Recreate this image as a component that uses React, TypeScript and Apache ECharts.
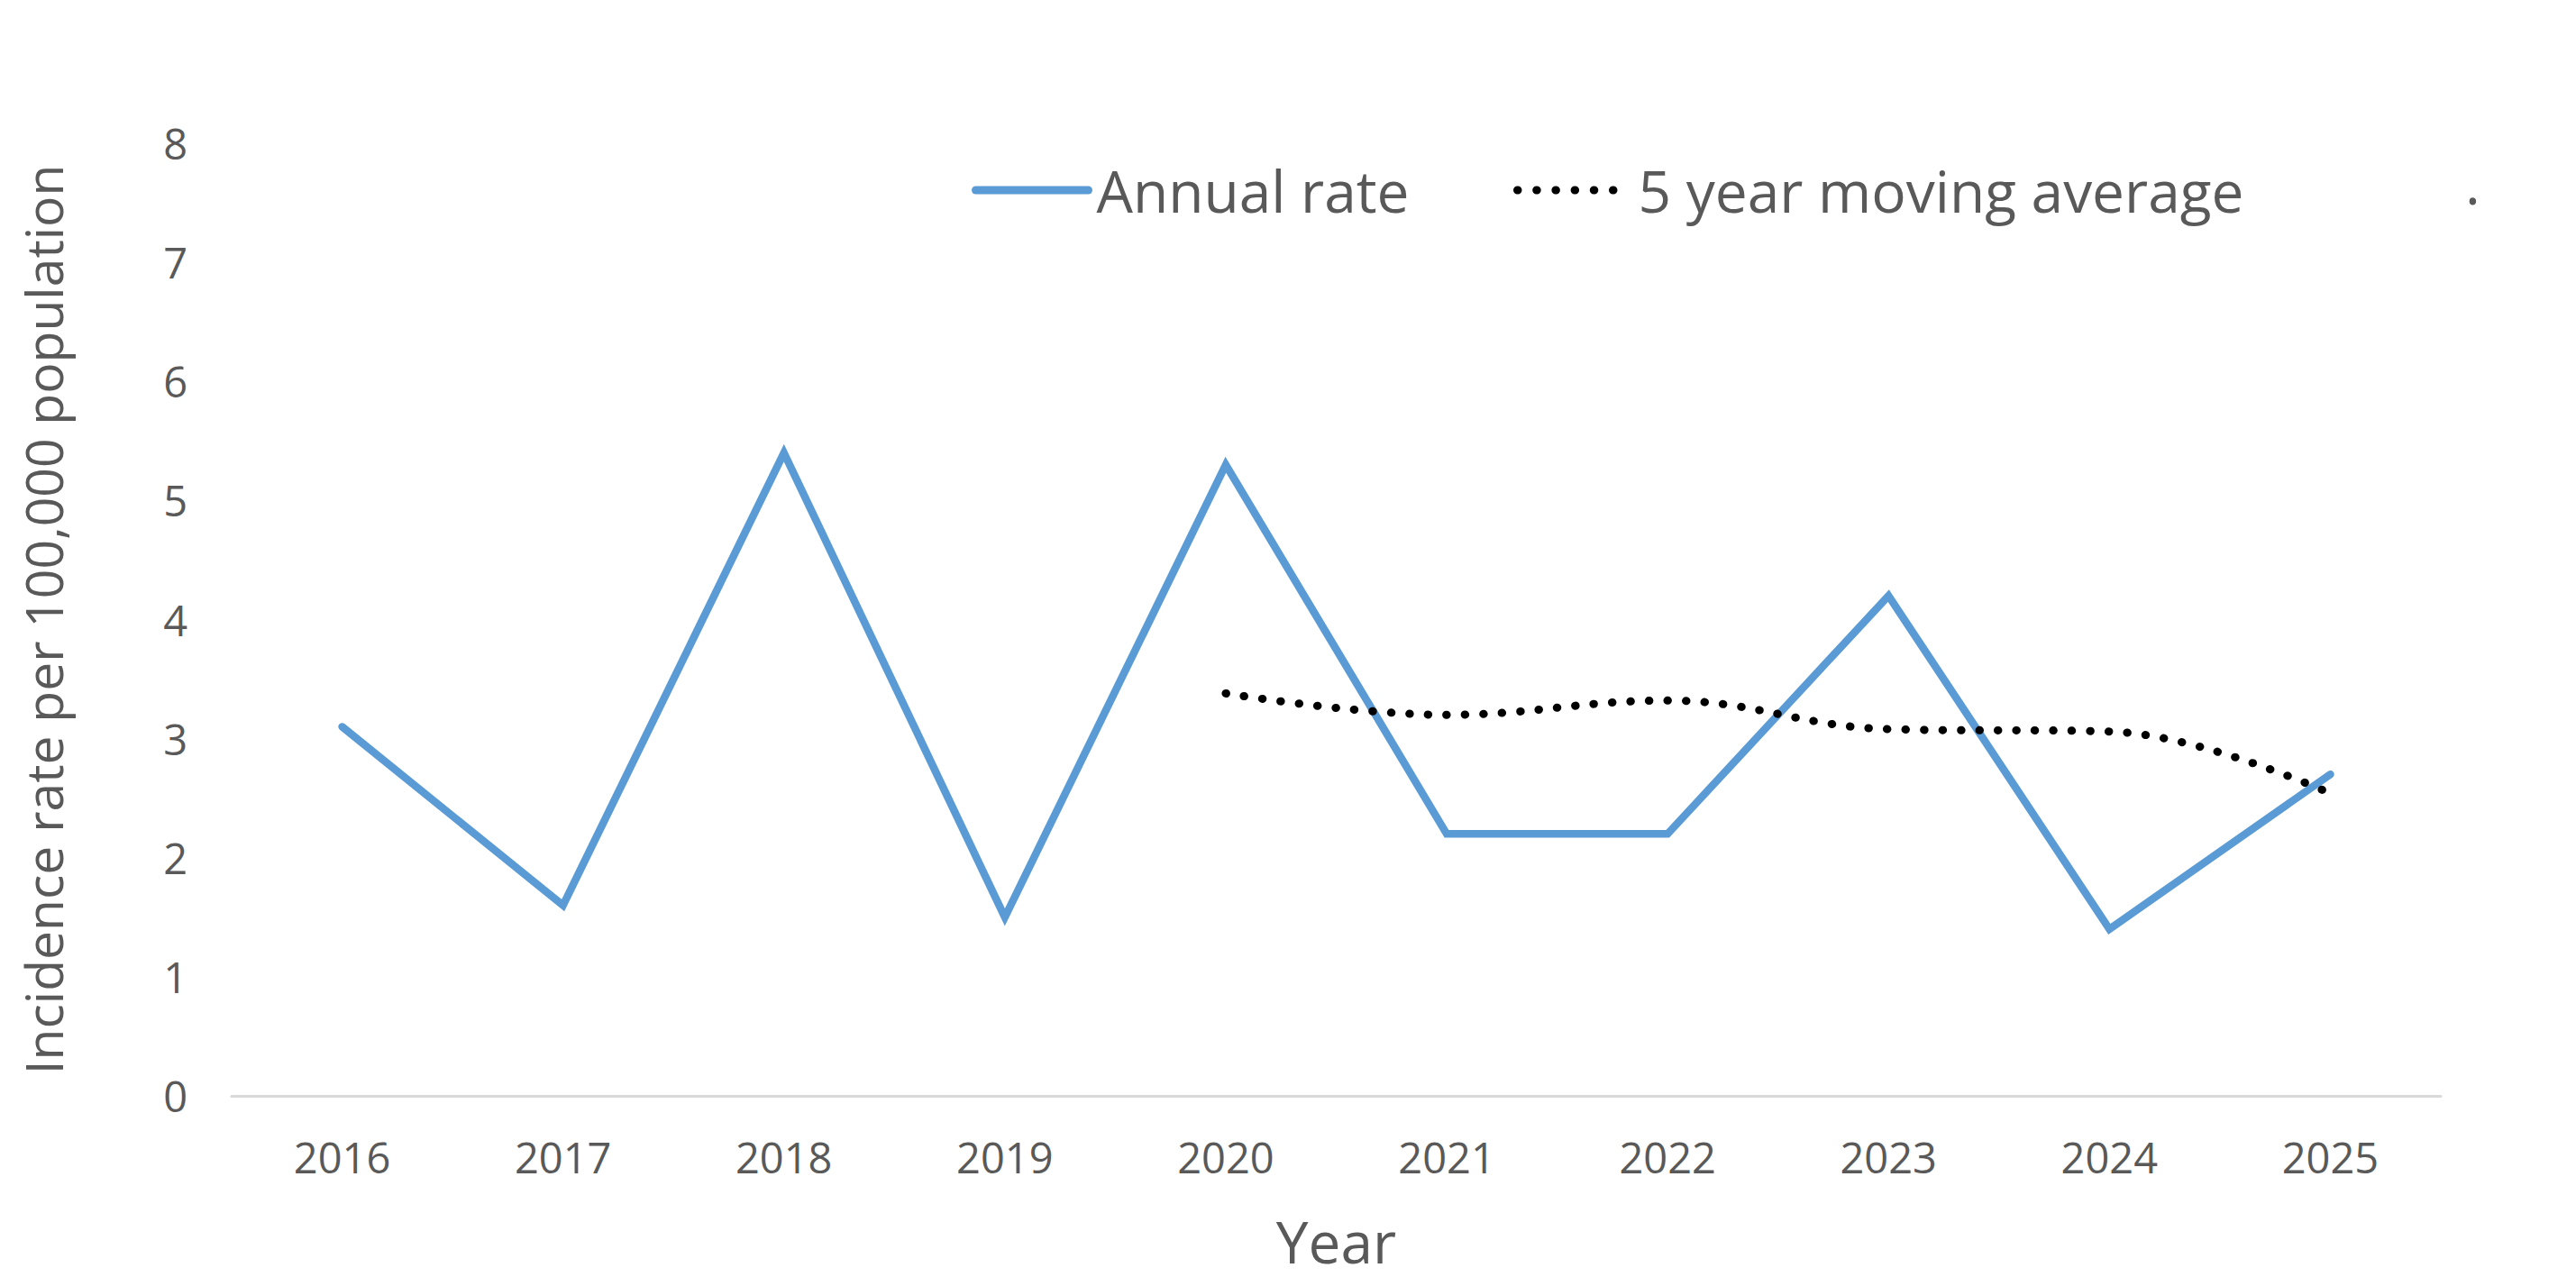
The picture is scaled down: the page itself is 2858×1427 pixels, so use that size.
import React, { useEffect, useRef } from "react";
import * as echarts from "echarts";

const years = ["2016", "2017", "2018", "2019", "2020", "2021", "2022", "2023", "2024", "2025"];
const annualRate = [3.1, 1.6, 5.4, 1.5, 5.3, 2.2, 2.2, 4.2, 1.4, 2.7];
const movingAverage = [null, null, null, null, 3.38, 3.2, 3.32, 3.08, 3.06, 2.54];
const yTicks = { min: 0, max: 8, interval: 1 };

const FONT = "'Open Sans', 'Noto Sans', sans-serif";
const GREY = "#595959";
const BLUE = "#5B9BD5";

export default function App() {
  const ref = useRef<HTMLDivElement>(null);
  useEffect(() => {
    document.body.style.margin = "0";
    const chart = echarts.init(ref.current!, null, { renderer: "svg" });
    const legendText = { fontFamily: FONT, fontSize: 64, color: GREY, padding: [0, 0, 0, 4] };
    chart.setOption({
      animation: false,
      backgroundColor: "#ffffff",
      grid: { left: 257, right: 150, top: 159, bottom: 211, containLabel: false },
      legend: [
        {
          data: ["Annual rate"],
          left: 1078,
          top: 179,
          padding: 0,
          itemWidth: 125,
          itemHeight: 9,
          itemGap: 0,
          lineStyle: { width: 9, cap: "round" },
          itemStyle: { color: "rgba(0,0,0,0)", borderWidth: 0 },
          textStyle: legendText,
          selectedMode: false,
        },
        {
          data: ["5 year moving average"],
          left: 1679,
          top: 179,
          padding: 0,
          itemWidth: 125,
          itemHeight: 9,
          itemGap: 0,
          lineStyle: { width: 9, type: [0.5, 20.7], cap: "round" },
          itemStyle: { color: "rgba(0,0,0,0)", borderWidth: 0 },
          textStyle: legendText,
          selectedMode: false,
        },
      ],
      graphic: [
        {
          type: "text",
          left: 2735,
          top: 170,
          style: { text: ".", fontFamily: FONT, fontSize: 64, fill: GREY },
        },
      ],
      xAxis: {
        type: "category",
        data: years,
        boundaryGap: true,
        axisLine: { lineStyle: { color: "#d9d9d9", width: 3 } },
        axisTick: { show: false },
        axisLabel: { fontFamily: FONT, fontSize: 47, color: GREY, margin: 44 },
        name: "Year",
        nameLocation: "middle",
        nameGap: 129,
        nameTextStyle: { fontFamily: FONT, fontSize: 64, color: GREY },
      },
      yAxis: {
        type: "value",
        min: yTicks.min,
        max: yTicks.max,
        interval: yTicks.interval,
        axisLine: { show: false },
        axisTick: { show: false },
        splitLine: { show: false },
        axisLabel: { fontFamily: FONT, fontSize: 47, color: GREY, margin: 49 },
        name: "Incidence rate per 100,000 population",
        nameLocation: "middle",
        nameRotate: 90,
        nameGap: 181,
        nameTextStyle: { fontFamily: FONT, fontSize: 57, color: GREY },
      },
      series: [
        {
          name: "Annual rate",
          type: "line",
          data: annualRate,
          symbol: "none",
          lineStyle: { color: BLUE, width: 8.5, cap: "round", join: "miter" },
          itemStyle: { color: BLUE },
        },
        {
          name: "5 year moving average",
          type: "line",
          data: movingAverage,
          symbol: "none",
          smooth: 0.4,
          connectNulls: false,
          lineStyle: { color: "#000000", width: 9, type: [0.5, 20], cap: "round" },
          itemStyle: { color: "#000000" },
        },
      ],
    });
    return () => chart.dispose();
  }, []);
  return <div ref={ref} style={{ width: 2858, height: 1427 }} />;
}
